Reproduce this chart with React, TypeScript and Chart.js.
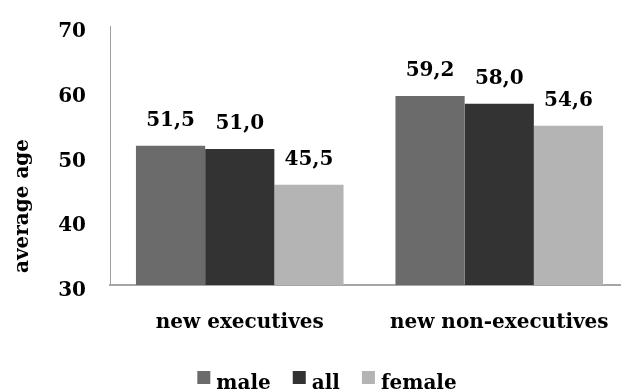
import { useEffect, useRef } from "react";
import { Chart, registerables } from "chart.js";

Chart.register(...registerables);

const categories = ["new executives", "new non-executives"];
const seriesNames = ["male", "all", "female"];
const maleValues = [51.5, 59.2];
const allValues = [51.0, 58.0];
const femaleValues = [45.5, 54.6];
const seriesColors = ["#6b6b6b", "#333333", "#b4b4b4"];
const yMin = 30;
const yMax = 70;
const yStep = 10;
const yTitle = "average age";

const FONT = "'DejaVu Serif', serif";
const FONT_SIZE = 20;

const fmt = (v: number) => v.toFixed(1).replace(".", ",");

const dataLabelPlugin = {
  id: "dataLabels",
  afterDatasetsDraw(chart: any) {
    const ctx = chart.ctx;
    ctx.save();
    ctx.font = `bold ${FONT_SIZE}px ${FONT}`;
    ctx.fillStyle = "#000";
    ctx.textAlign = "center";
    ctx.textBaseline = "alphabetic";
    chart.data.datasets.forEach((ds: any, di: number) => {
      const meta = chart.getDatasetMeta(di);
      meta.data.forEach((bar: any, i: number) => {
        ctx.fillText(fmt(ds.data[i]), bar.x, bar.y - 20);
      });
    });
    ctx.restore();
  },
};

const yTitlePlugin = {
  id: "yTitle",
  afterDraw(chart: any) {
    const ctx = chart.ctx;
    ctx.save();
    ctx.font = `bold ${FONT_SIZE}px ${FONT}`;
    ctx.fillStyle = "#000";
    ctx.textAlign = "center";
    ctx.textBaseline = "alphabetic";
    ctx.translate(28, 206);
    ctx.rotate(-Math.PI / 2);
    ctx.fillText(yTitle, 0, 0);
    ctx.restore();
  },
};

const legendPlugin = {
  id: "bottomLegend",
  afterDraw(chart: any) {
    const ctx = chart.ctx;
    ctx.save();
    ctx.font = `bold ${FONT_SIZE}px ${FONT}`;
    const box = 13;
    const gapText = 6;
    const gapItem = 22;
    const items = chart.data.datasets.map((ds: any) => ({
      text: ds.label,
      color: ds.backgroundColor,
      w: ctx.measureText(ds.label).width,
    }));
    const total =
      items.reduce((s: number, it: any) => s + box + gapText + it.w, 0) +
      gapItem * (items.length - 1);
    let x = 327 - total / 2;
    const boxTop = 371;
    const baseline = 389;
    ctx.textAlign = "left";
    ctx.textBaseline = "alphabetic";
    items.forEach((it: any) => {
      ctx.fillStyle = it.color;
      ctx.fillRect(x, boxTop, box, box);
      x += box + gapText;
      ctx.fillStyle = "#000";
      ctx.fillText(it.text, x, baseline);
      x += it.w + gapItem;
    });
    ctx.restore();
  },
};

export default function App() {
  const ref = useRef<HTMLCanvasElement>(null);

  useEffect(() => {
    if (!ref.current) return;
    const values = [maleValues, allValues, femaleValues];
    const chart = new Chart(ref.current, {
      type: "bar",
      data: {
        labels: categories,
        datasets: seriesNames.map((name, i) => ({
          label: name,
          data: values[i],
          backgroundColor: seriesColors[i],
          borderWidth: 0,
          categoryPercentage: 0.8,
          barPercentage: 1.0,
        })),
      },
      options: {
        animation: false,
        responsive: false,
        devicePixelRatio: 1,
        layout: { padding: { top: 26, right: 11, left: 0, bottom: 50 } },
        plugins: {
          tooltip: { enabled: false },
          legend: { display: false },
        },
        scales: {
          x: {
            grid: { display: false, drawTicks: false },
            border: { display: true, color: "#a6a6a6", width: 2 },
            ticks: {
              color: "#000",
              padding: 26,
              font: { family: FONT, size: FONT_SIZE, weight: "bold" },
            },
            afterFit: (scale: any) => {
              scale.height = 55;
            },
          },
          y: {
            min: yMin,
            max: yMax,
            grid: { display: false, drawTicks: false },
            border: { display: true, color: "#a0a0a0", width: 1 },
            ticks: {
              stepSize: yStep,
              color: "#000",
              padding: 24,
              labelOffset: 6,
              font: { family: FONT, size: FONT_SIZE, weight: "bold" },
            },
            afterFit: (scale: any) => {
              scale.width = 110;
              scale.paddingTop = 8;
              scale.paddingBottom = 8;
            },
          },
        },
      },
      plugins: [dataLabelPlugin, yTitlePlugin, legendPlugin],
    });
    return () => chart.destroy();
  }, []);

  return (
    <div
      style={{
        position: "fixed",
        left: 0,
        top: 0,
        width: 621,
        height: 390,
        overflow: "hidden",
        background: "#fff",
      }}
    >
      <canvas ref={ref} width={640} height={390} style={{ width: 640, height: 390 }} />
    </div>
  );
}
